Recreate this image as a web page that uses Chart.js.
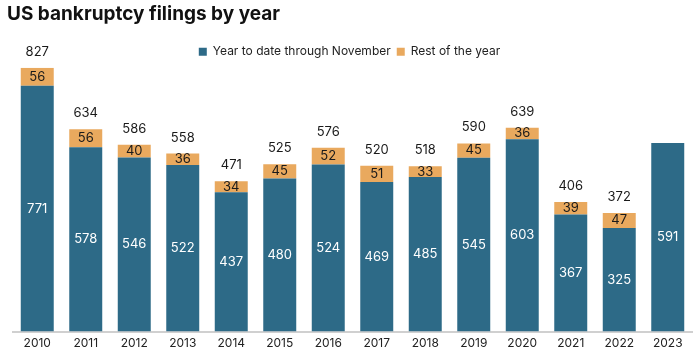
<!DOCTYPE html>
<html>
<head>
<meta charset="utf-8">
<script src="https://cdn.jsdelivr.net/npm/chart.js@4"></script>
<style>
  html, body { margin: 0; padding: 0; background: #fff; }
</style>
</head>
<body>
<canvas id="myChart" width="700" height="359"></canvas>
<script>
const years = ['2010', '2011', '2012', '2013', '2014', '2015', '2016', '2017', '2018', '2019', '2020', '2021', '2022', '2023'];
const yearToDate = [771, 578, 546, 522, 437, 480, 524, 469, 485, 545, 603, 367, 325, 591];
const restOfYear = [56, 56, 40, 36, 34, 45, 52, 51, 33, 45, 36, 39, 47, null];
const totals = [827, 634, 586, 558, 471, 525, 576, 520, 518, 590, 639, 406, 372, null];

const FONT = 'Inter, "Noto Sans", sans-serif';

// draws the numbers in and above the bars
const barLabels = {
    id: 'barLabels',
    afterDatasetsDraw: function (chart) {
        const ctx = chart.ctx;
        const ytdMeta = chart.getDatasetMeta(0);
        const restMeta = chart.getDatasetMeta(1);
        ctx.save();
        ctx.textAlign = 'center';
        ctx.textBaseline = 'middle';
        ctx.font = '13px ' + FONT;
        years.forEach(function (y, i) {
            const a = ytdMeta.data[i];
            ctx.fillStyle = '#ffffff';
            ctx.fillText(String(yearToDate[i]), a.x, (a.y + a.base) / 2);
            if (restOfYear[i] != null) {
                const b = restMeta.data[i];
                ctx.fillStyle = '#1a1a1a';
                ctx.fillText(String(restOfYear[i]), b.x, (b.y + b.base) / 2);
            }
            if (totals[i] != null) {
                const top = restOfYear[i] != null ? restMeta.data[i].y : a.y;
                ctx.fillStyle = '#1a1a1a';
                ctx.fillText(String(totals[i]), a.x, top - 16);
            }
        });
        ctx.restore();
    }
};

const config = {
    type: 'bar',
    data: {
        labels: years,
        datasets: [
            {
                label: 'Year to date through November',
                data: yearToDate,
                backgroundColor: '#2d6a87'
            },
            {
                label: 'Rest of the year',
                data: restOfYear,
                backgroundColor: '#e9a95e'
            }
        ]
    },
    options: {
        responsive: false,
        animation: false,
        barPercentage: 0.68,
        categoryPercentage: 1,
        layout: {
            padding: { left: 7, right: 8, top: 2, bottom: 3 }
        },
        plugins: {
            title: {
                display: true,
                text: 'US bankruptcy filings by year',
                align: 'start',
                color: '#111111',
                font: { family: FONT, size: 19, weight: 'bold' },
                padding: { top: 1, bottom: 14 }
            },
            legend: {
                display: true,
                position: 'top',
                labels: {
                    boxWidth: 8,
                    boxHeight: 8,
                    color: '#222222',
                    font: { family: FONT, size: 12 },
                    padding: 6
                }
            },
            tooltip: { enabled: false }
        },
        scales: {
            x: {
                stacked: true,
                grid: { display: false, drawTicks: false },
                border: { color: '#d0d0d0', width: 2 },
                ticks: {
                    color: '#222222',
                    font: { family: FONT, size: 12 },
                    padding: 5
                }
            },
            y: {
                stacked: true,
                min: 0,
                max: 827,
                display: true,
                grid: { display: false, drawTicks: false },
                border: { display: false },
                ticks: { display: false },
                afterFit: function (scale) {
                    scale.width = 6;
                }
            }
        }
    },
    plugins: [barLabels]
};

const myChart = new Chart(
    document.getElementById('myChart'),
    config
);
</script>
</body>
</html>
